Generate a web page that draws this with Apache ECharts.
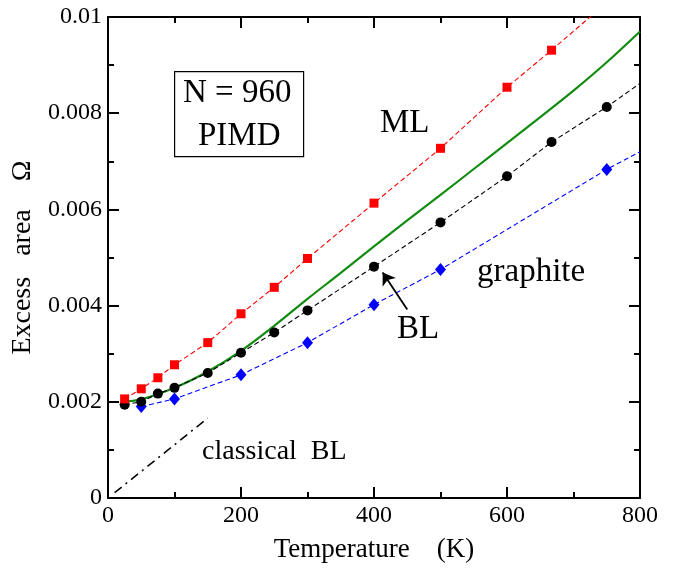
<!DOCTYPE html>
<html>
<head>
<meta charset="utf-8">
<script src="https://cdn.jsdelivr.net/npm/echarts@6/dist/echarts.min.js"></script>
<style>
  html, body { margin: 0; padding: 0; background: #fff; }
  #chart { width: 685px; height: 572px; }
</style>
</head>
<body>
<div id="chart"></div>
<script>
// Excess area Ω versus temperature from PIMD runs (N = 960)
const mlT = [25, 50, 75, 100, 150, 200, 250, 300, 400, 500, 600, 667, 750];
const mlOmega = [0.00206, 0.00227, 0.0025, 0.00277, 0.00323, 0.00383, 0.00438, 0.00498, 0.00613, 0.00727, 0.00854, 0.00931, 0.0103];

const blT = [25, 50, 75, 100, 150, 200, 250, 300, 400, 500, 600, 667, 750, 800];
const blOmega = [0.00194, 0.002, 0.00217, 0.00229, 0.0026, 0.00302, 0.00344, 0.0039, 0.00481, 0.00573, 0.00669, 0.0074, 0.00813, 0.00862];

const grT = [50, 100, 200, 300, 400, 500, 750, 800];
const grOmega = [0.0019, 0.00206, 0.00256, 0.00323, 0.00402, 0.00475, 0.00683, 0.0072];

// smooth fit curve
const fitT = [20, 50, 100, 150, 200, 250, 300, 350, 400, 450, 500, 550, 600, 650, 700, 750, 800];
const fitOmega = [0.002, 0.00205, 0.00229, 0.00263, 0.00306, 0.00358, 0.00414, 0.00468, 0.00523, 0.00577, 0.0063, 0.00684, 0.00738, 0.00792, 0.00847, 0.00906, 0.0097];

// classical bilayer line
const clT = [10, 150];
const clOmega = [0.00011, 0.00166];

// pointer from the "BL" label to the BL curve
const arrowFrom = [450, 0.00392];
const arrowTo = [413, 0.00469];

const xTicks = [0, 200, 400, 600, 800];
const yTickLabels = ['0', '0.002', '0.004', '0.006', '0.008', '0.01'];

const FONT = '"Liberation Serif", "DejaVu Serif", serif';

// the last point of an open-ended series is drawn as line only
function pts(xs, ys, lastBare) {
  return xs.map((x, i) => {
    if (lastBare && i === xs.length - 1) return { value: [x, ys[i]], symbol: 'none' };
    return [x, ys[i]];
  });
}

const chart = echarts.init(document.getElementById('chart'), null, { renderer: 'canvas' });

const axisLine = { show: true, onZero: false, lineStyle: { color: '#000', width: 2 } };
const tickStyle = { color: '#000', width: 2 };
const majorTick = { show: true, inside: true, length: 11, lineStyle: tickStyle };
const minorTick = { show: true, splitNumber: 2, length: 6, lineStyle: tickStyle };

chart.setOption({
  animation: false,
  backgroundColor: '#fff',
  grid: { left: 108, right: 45, top: 17, bottom: 74, containLabel: false },
  xAxis: [
    {
      type: 'value', min: 0, max: 800, interval: 200,
      axisLine: axisLine, axisTick: majorTick, minorTick: minorTick,
      splitLine: { show: false }, minorSplitLine: { show: false },
      axisLabel: { color: '#000', fontFamily: FONT, fontSize: 24, margin: 6,
        formatter: v => xTicks.includes(v) ? String(v) : '' },
      name: 'Temperature    (K)', nameLocation: 'middle', nameGap: 38,
      nameTextStyle: { color: '#000', fontFamily: FONT, fontSize: 27 }
    },
    {
      type: 'value', min: 0, max: 800, interval: 200, position: 'top',
      axisLine: axisLine, axisTick: majorTick, minorTick: minorTick,
      splitLine: { show: false }, axisLabel: { show: false }
    }
  ],
  yAxis: [
    {
      type: 'value', min: 0, max: 0.01, interval: 0.002,
      axisLine: axisLine, axisTick: majorTick, minorTick: minorTick,
      splitLine: { show: false }, minorSplitLine: { show: false },
      axisLabel: { color: '#000', fontFamily: FONT, fontSize: 24, margin: 6,
        formatter: v => yTickLabels[Math.round(v / 0.002)] },
      name: 'Excess   area    Ω', nameLocation: 'middle', nameGap: 61, nameRotate: 90,
      nameTextStyle: { color: '#000', fontFamily: FONT, fontSize: 28 }
    },
    {
      type: 'value', min: 0, max: 0.01, interval: 0.002, position: 'right',
      axisLine: axisLine, axisTick: majorTick, minorTick: minorTick,
      splitLine: { show: false }, axisLabel: { show: false }
    }
  ],
  series: [
    {
      name: 'classical BL', type: 'line', data: pts(clT, clOmega), symbol: 'none',
      lineStyle: { color: '#000', width: 1.5, type: [9, 5, 2, 5] }, z: 2
    },
    {
      name: 'fit', type: 'line', data: pts(fitT, fitOmega), symbol: 'none',
      smooth: 0.35,
      lineStyle: { color: '#118c11', width: 2.2 }, z: 3
    },
    {
      name: 'graphite', type: 'line', data: pts(grT, grOmega, true),
      symbol: 'diamond', symbolSize: [11, 13], itemStyle: { color: '#0000ff' },
      lineStyle: { color: '#0000ff', width: 1.1, type: [5, 3] }, z: 4, clip: true
    },
    {
      name: 'BL', type: 'line', data: pts(blT, blOmega, true),
      symbol: 'circle', symbolSize: 10, itemStyle: { color: '#000' },
      lineStyle: { color: '#000', width: 1.1, type: [5, 3] }, z: 5, clip: true,
      markLine: {
        silent: true, symbol: ['none', 'arrow'], symbolSize: 12,
        label: { show: false }, emphasis: { disabled: true },
        lineStyle: { color: '#000', width: 1.8, type: 'solid' },
        data: [[{ coord: arrowFrom }, { coord: arrowTo }]]
      }
    },
    {
      name: 'ML', type: 'line', data: pts(mlT, mlOmega, true),
      symbol: 'rect', symbolSize: 9, itemStyle: { color: '#ff0000' },
      lineStyle: { color: '#ff0000', width: 1.1, type: [5, 3] }, z: 6, clip: true
    }
  ],
  graphic: [
    { type: 'rect', left: 174, top: 71, shape: { width: 129, height: 85 },
      style: { fill: '#fff', stroke: '#000', lineWidth: 1.2 }, z: 10 },
    { type: 'text', x: 183, y: 93, z: 11,
      style: { text: 'N = 960', font: '33px ' + FONT, fill: '#000', verticalAlign: 'middle' } },
    { type: 'text', x: 198, y: 136, z: 11,
      style: { text: 'PIMD', font: '33px ' + FONT, fill: '#000', verticalAlign: 'middle' } },
    { type: 'text', x: 380, y: 123, z: 11,
      style: { text: 'ML', font: '33px ' + FONT, fill: '#000', verticalAlign: 'middle' } },
    { type: 'text', x: 477, y: 272, z: 11,
      style: { text: 'graphite', font: '33px ' + FONT, fill: '#000', verticalAlign: 'middle' } },
    { type: 'text', x: 397, y: 329, z: 11,
      style: { text: 'BL', font: '33px ' + FONT, fill: '#000', verticalAlign: 'middle' } },
    { type: 'text', x: 202, y: 452, z: 11,
      style: { text: 'classical  BL', font: '28px ' + FONT, fill: '#000', verticalAlign: 'middle' } }
  ]
});
</script>
</body>
</html>
